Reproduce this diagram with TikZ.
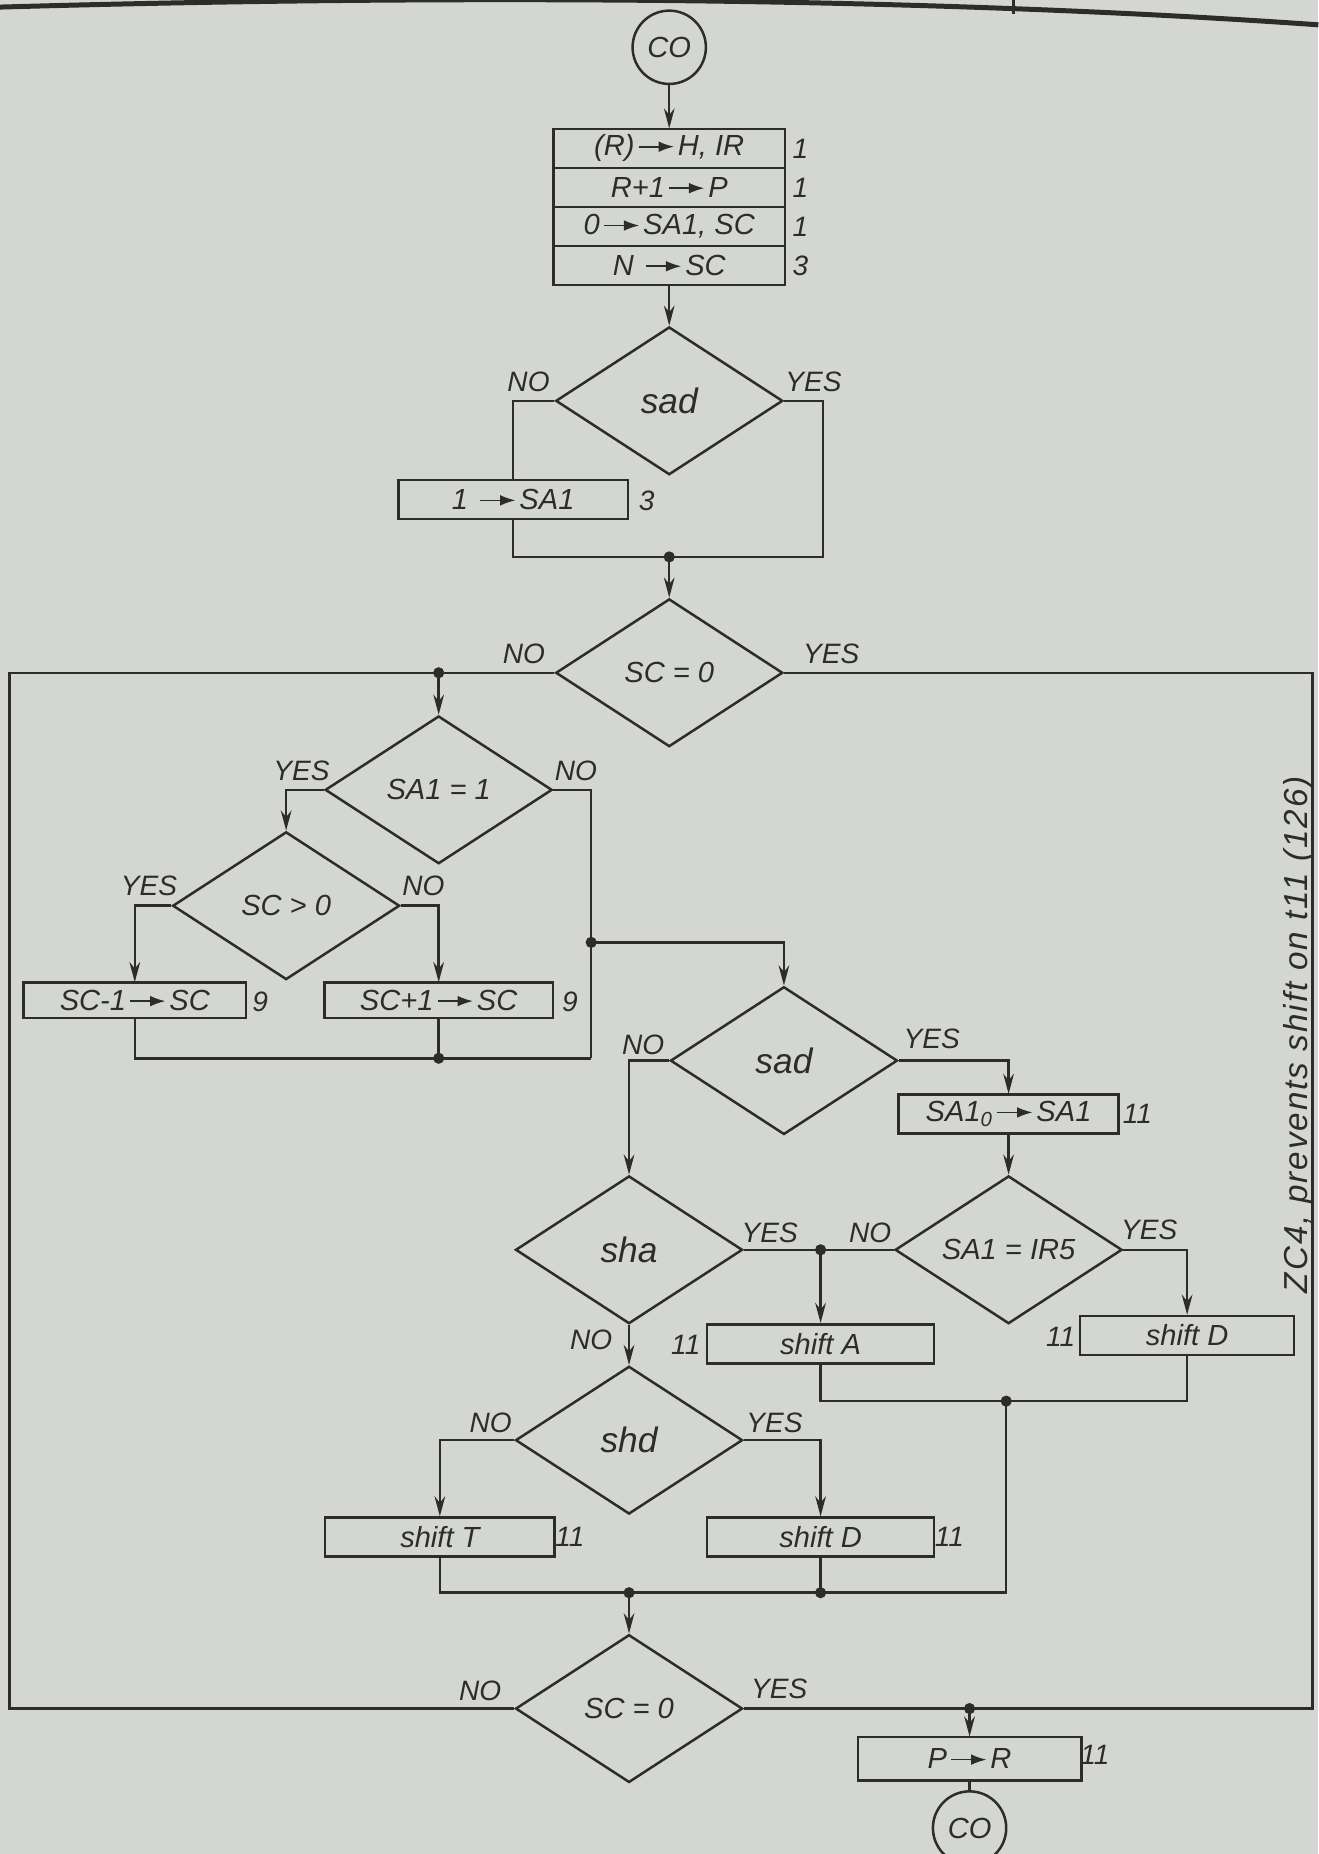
\documentclass[tikz,border=0pt]{standalone}
\usepackage{fontspec}
\setmainfont{Liberation Sans}
\usetikzlibrary{arrows.meta,shapes.geometric,calc}
\definecolor{paper}{RGB}{212,215,209}
\definecolor{ink}{RGB}{44,44,44}
\newcommand{\tto}{\kern1.5pt\tikz[baseline=-0.6ex]\draw[ink,line width=0.8pt,-{Latex[length=2.6mm,width=1.8mm]}] (0,0) -- (6mm,0);\kern1.5pt}
\tikzset{>={Stealth[length=3.4mm,width=1.8mm]},
  txt/.style={font=\fontsize{14}{16}\selectfont\itshape},
  big/.style={font=\fontsize{17}{19}\selectfont\itshape},
  blk/.style={draw, txt, minimum height=6.6mm, minimum width=38.6mm, inner sep=0pt},
  dec/.style={draw, txt, diamond, aspect=1.5, minimum width=38.4mm, minimum height=25mm, inner sep=0pt},
  term/.style={draw, txt, circle, minimum size=12.4mm, inner sep=0pt},
  lbl/.style={inner sep=0pt, font=\fontsize{13.5}{15}\selectfont\itshape}}

\begin{document}
\begin{tikzpicture}[x=0.2mm, y=-0.2mm, ink, line width=1.2pt]
  \useasboundingbox (0,0) rectangle (1115,1568);
  \fill[paper] (0,0) rectangle (1115,1568);
  \draw[line width=2.4pt] (0,6) .. controls (350,-4) and (760,-4) .. (1115,21);
  \draw[line width=1.2pt] (857,0) -- (857,12);

  \node[term] (coA) at (566,40) {CO};
  \node[blk, minimum width=39.2mm] (r1) at (566,125.5) {(R)\tto H, IR};
  \node[blk, minimum width=39.2mm] (r2) at (566,158.5) {R+1\tto P};
  \node[blk, minimum width=39.2mm] (r3) at (566,191.5) {0\tto SA1, SC};
  \node[blk, minimum width=39.2mm] (r4) at (566,224.5) {N \tto SC};
  \node[lbl] (n1) at (677,125.5) {1};
  \node[lbl] (n2) at (677,158.5) {1};
  \node[lbl] (n3) at (677,191.5) {1};
  \node[lbl] (n4) at (677,224.5) {3};

  \node[dec, big] (sadA) at (566,339) {sad};
  \node[blk, minimum width=38.8mm] (setA) at (434,422.5) {1 \tto SA1};
  \node[lbl] (nset) at (547,424) {3};
  \node[dec] (scA) at (566,569) {SC = 0};
  \node[dec] (saone) at (371,668) {SA1 = 1};
  \node[dec] (scpos) at (242,766) {SC > 0};
  \node[blk, minimum width=37.6mm, minimum height=6mm] (scm) at (114,846) {SC-1\tto SC};
  \node[blk, minimum width=38.6mm, minimum height=6mm] (scp) at (371,846) {SC+1\tto SC};
  \node[lbl] (nscm) at (220,847) {9};
  \node[lbl] (nscp) at (482,847) {9};

  \node[dec, big] (sadB) at (663,897) {sad};
  \node[blk, minimum width=37.2mm] (sazero) at (853,942) {SA1\textsubscript{0}\tto SA1};
  \node[lbl] (nsaz) at (962,942) {11};
  \node[dec, big] (sha) at (532,1057) {sha};
  \node[dec] (irf) at (853,1057) {SA1 = IR5};
  \node[blk, minimum width=38.4mm] (shA) at (694,1136.5) {shift A};
  \node[lbl] (nshA) at (580,1137) {11};
  \node[blk, minimum width=36.2mm] (shDr) at (1004,1129.5) {shift D};
  \node[lbl] (nshDr) at (897,1131) {11};
  \node[dec, big] (shd) at (532,1218) {shd};
  \node[blk, minimum width=38.8mm] (shT) at (372,1300) {shift T};
  \node[lbl] (nshT) at (482,1300) {11};
  \node[blk, minimum width=38.4mm] (shDl) at (694,1300) {shift D};
  \node[lbl] (nshDl) at (803,1300) {11};
  \node[dec] (scB) at (532,1445) {SC = 0};
  \node[blk, minimum width=37.8mm, minimum height=7.4mm] (ptr) at (820,1487.5) {P\tto R};
  \node[lbl] (nptr) at (926,1484) {11};
  \node[term] (coB) at (820,1546) {CO};

  \node[lbl] (lNOa) at (447,323) {NO};
  \node[lbl] (lYESa) at (688,323) {YES};
  \node[lbl] (lNOb) at (443,553) {NO};
  \node[lbl] (lYESb) at (703,553) {YES};
  \node[lbl] (lYESc) at (255,652) {YES};
  \node[lbl] (lNOc) at (487,652) {NO};
  \node[lbl] (lYESd) at (126,749) {YES};
  \node[lbl] (lNOd) at (358,749) {NO};
  \node[lbl] (lNOe) at (544,884) {NO};
  \node[lbl] (lYESe) at (788,879) {YES};
  \node[lbl] (lYESf) at (651,1043) {YES};
  \node[lbl] (lNOf) at (500,1133) {NO};
  \node[lbl] (lNOg) at (736,1043) {NO};
  \node[lbl] (lYESg) at (972,1040) {YES};
  \node[lbl] (lNOh) at (415,1203) {NO};
  \node[lbl] (lYESh) at (655,1203) {YES};
  \node[lbl] (lNOi) at (406,1430) {NO};
  \node[lbl] (lYESi) at (659,1428) {YES};
  \node[lbl, font=\fontsize{16}{18}\selectfont\itshape\addfontfeatures{LetterSpace=6}, rotate=90, anchor=base] (note) at (1106,875) {ZC4, prevents shift on t11 (126)};

  \coordinate (lft) at (8,0);
  \coordinate (rgt) at (1110,0);
  \coordinate (jA) at (566,471);
  \coordinate (cA) at (696,471);
  \coordinate (jB) at (371,569);
  \coordinate (jC) at (371,895);
  \coordinate (cB) at (500,895);
  \coordinate (jD) at (500,797);
  \coordinate (jE) at (694,1057);
  \coordinate (jF) at (851,1185);
  \coordinate (cD) at (1004,1185);
  \coordinate (cE) at (372,1347);
  \coordinate (jG) at (532,1347);
  \coordinate (jH) at (694,1347);
  \coordinate (jI) at (820,1445);

  \draw[->] (coA) -- (r1);
  \draw[->] (r4) -- (sadA);
  \draw (sadA.west) -| (setA.north);
  \draw (setA.south) |- (jA);
  \draw (sadA.east) -| (cA) -- (jA);
  \draw[->] (jA) -- (scA);
  \draw (scA.west) -- (scA.west -| lft) |- (scB.west);
  \draw (scA.east) -- (scA.east -| rgt) |- (scB.east);
  \draw[->] (jB) -- (saone);
  \draw[->] (saone.west) -| (scpos.north);
  \draw[->] (scpos.west) -| (scm.north);
  \draw[->] (scpos.east) -| (scp.north);
  \draw (scm.south) |- (cB);
  \draw (scp.south) -- (jC);
  \draw (saone.east) -| (cB);
  \draw[->] (jD) -| (sadB.north);
  \draw[->] (sadB.west) -| (sha.north);
  \draw[->] (sadB.east) -| (sazero.north);
  \draw[->] (sazero) -- (irf);
  \draw[->] (irf.east) -| (shDr.north);
  \draw (sha.east) -- (irf.west);
  \draw[->] (jE) -- (shA);
  \draw[->] (sha) -- (shd);
  \draw[->] (shd.west) -| (shT.north);
  \draw[->] (shd.east) -| (shDl.north);
  \draw (shA.south) |- (cD) -- (shDr.south);
  \draw (jF) |- (cE) -- (shT.south);
  \draw (shDl.south) -- (jH);
  \draw[->] (jG) -- (scB);
  \draw[->] (jI) -- (ptr);
  \draw (ptr) -- (coB);
  \foreach \j in {jA,jB,jC,jD,jE,jF,jG,jH,jI}
    \fill (\j) circle (0.95mm);
\end{tikzpicture}
\end{document}
